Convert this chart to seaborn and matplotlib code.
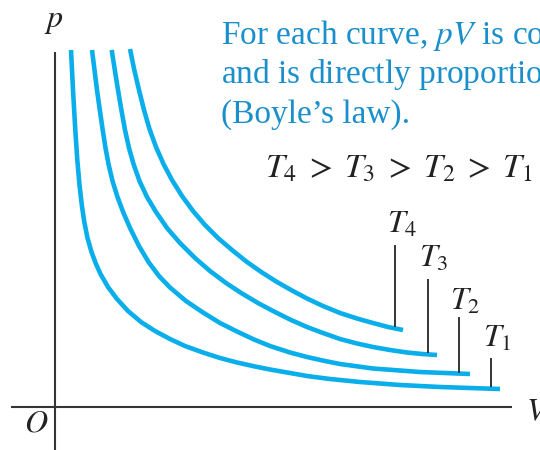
import matplotlib
matplotlib.use("Agg")
import matplotlib.pyplot as plt
import seaborn as sns
import pandas as pd

# ---- data (V, p in arbitrary units; origin at the axes corner) ----
T1_V = [1.60, 1.80, 2.03, 2.23, 2.45, 2.68, 2.93, 3.25, 3.65, 4.10, 4.55, 5.30, 6.20, 7.30, 8.60,
        10.00, 11.50, 13.00, 14.80, 16.50, 18.20, 20.00, 21.50, 23.50, 25.20, 27.50, 30.50, 34.50,
        38.50, 41.50, 44.50]
T1_p = [35.7, 31.7, 27.7, 24.7, 22.2, 20.2, 18.5, 16.9, 15.5, 14.3, 13.3, 12.0, 10.8, 9.6, 8.5,
        7.6, 6.8, 6.1, 5.45, 4.9, 4.45, 4.05, 3.75, 3.4, 3.1, 2.8, 2.5, 2.2,
        2.0, 1.9, 1.8]

T2_V = [3.70, 3.95, 4.20, 4.48, 4.77, 5.05, 5.35, 5.75, 6.25, 6.85, 7.55, 8.40, 9.35, 10.40,
        11.50, 13.10, 14.80, 16.50, 18.20, 19.90, 21.50, 23.50, 25.20, 27.00, 28.50, 31.80,
        36.50, 41.50]
T2_p = [35.7, 33.7, 31.7, 29.7, 27.7, 25.9, 24.3, 22.6, 21.0, 19.4, 17.8, 16.1, 14.5, 13.1,
        11.95, 10.6, 9.45, 8.4, 7.55, 6.75, 6.1, 5.45, 5.0, 4.6, 4.3, 3.85,
        3.5, 3.3]

T3_V = [5.67, 5.98, 6.30, 6.64, 7.00, 7.40, 7.85, 8.45, 9.20, 10.10, 11.20, 12.50, 14.00, 15.50,
        17.10, 18.70, 20.30, 21.80, 23.50, 25.20, 26.80, 28.50, 30.20, 31.80, 33.50, 35.20,
        36.70, 38.20]
T3_p = [35.7, 33.7, 31.7, 29.7, 27.7, 25.9, 24.3, 22.6, 21.0, 19.5, 17.9, 16.4, 14.9, 13.6,
        12.4, 11.35, 10.4, 9.6, 8.75, 8.0, 7.4, 6.8, 6.35, 6.0, 5.7, 5.45,
        5.3, 5.2]

T4_V = [7.50, 7.93, 8.40, 8.90, 9.45, 10.10, 10.85, 11.70, 12.70, 13.80, 15.00, 16.30, 17.70,
        19.20, 20.70, 22.20, 23.70, 25.20, 26.80, 28.50, 30.20, 31.80, 33.30, 34.80]
T4_p = [35.8, 33.7, 31.7, 29.7, 27.8, 26.0, 24.3, 22.7, 21.1, 19.6, 18.2, 16.9, 15.7,
        14.5, 13.45, 12.5, 11.65, 10.85, 10.1, 9.4, 8.85, 8.4, 8.0, 7.7]

curve_names = ["T1", "T2", "T3", "T4"]
curve_labels = ["$T_1$", "$T_2$", "$T_3$", "$T_4$"]
# label leader lines: V position, top p, bottom p
leader_V = [43.6, 40.4, 37.3, 34.0]
leader_top = [4.9, 9.0, 12.8, 16.2]
leader_bot = [2.0, 3.4, 5.4, 8.0]
# label text anchors (left, baseline)
label_V = [42.83, 39.5, 36.43, 33.2]
label_p = [6.0, 9.7, 14.0, 17.4]

note_lines = [
    "For each curve, $pV$ is constant",
    "and is directly proportional to $T$",
    "(Boyle\u2019s law).",
]
order_text = r"$T_4\;>\;T_3\;>\;T_2\;>\;T_1$"

# ---- build frame ----
rows = []
for name, Vs, ps in zip(curve_names, [T1_V, T2_V, T3_V, T4_V], [T1_p, T2_p, T3_p, T4_p]):
    for v, p in zip(Vs, ps):
        rows.append({"curve": name, "V": v, "p": p})
df = pd.DataFrame(rows)

sns.set_theme(style="white")
plt.rcParams["mathtext.fontset"] = "stix"
plt.rcParams["font.family"] = ["Liberation Serif", "DejaVu Serif"]

CURVE = "#0aaeea"
TEXT_BLUE = "#1a8fcb"
DARK = "#353535"
INK = "#222222"

fig = plt.figure(figsize=(5.4, 4.5), dpi=100)
ax = fig.add_axes([0, 0, 1, 1])
ax.set_xlim(-5.5, 48.5)
ax.set_ylim(-4.3, 40.7)
ax.axis("off")

# axis lines
ax.plot([-4.4, 45.7], [0, 0], color=DARK, lw=1.5, solid_capstyle="butt")
ax.plot([0, 0], [-4.4, 35.5], color=DARK, lw=1.5, solid_capstyle="butt")

sns.lineplot(data=df, x="V", y="p", hue="curve", palette=[CURVE] * 4,
             legend=False, sort=False, estimator=None, lw=3.3,
             solid_capstyle="butt", ax=ax)

for i in range(4):
    ax.plot([leader_V[i], leader_V[i]], [leader_bot[i], leader_top[i]],
            color=DARK, lw=1.4, solid_capstyle="butt")
    ax.text(label_V[i], label_p[i], curve_labels[i], fontsize=23,
            ha="left", va="baseline", color=INK)

ax.text(-0.1, 38.0, "$p$", fontsize=23, ha="center", va="baseline", color=INK)
ax.text(-1.9, -2.5, "$O$", fontsize=23, ha="center", va="baseline", color=INK)
ax.text(47.1, -1.3, "$V$", fontsize=23, ha="left", va="baseline", color=INK)

note_y = [36.3, 32.35, 28.4]
for t, y in zip(note_lines, note_y):
    ax.text(16.6, y, t, fontsize=24, ha="left", va="baseline", color=TEXT_BLUE)

ax.text(21.0, 22.9, order_text, fontsize=24.5, ha="left", va="baseline", color=INK)

fig.savefig("out.png", dpi=100)
